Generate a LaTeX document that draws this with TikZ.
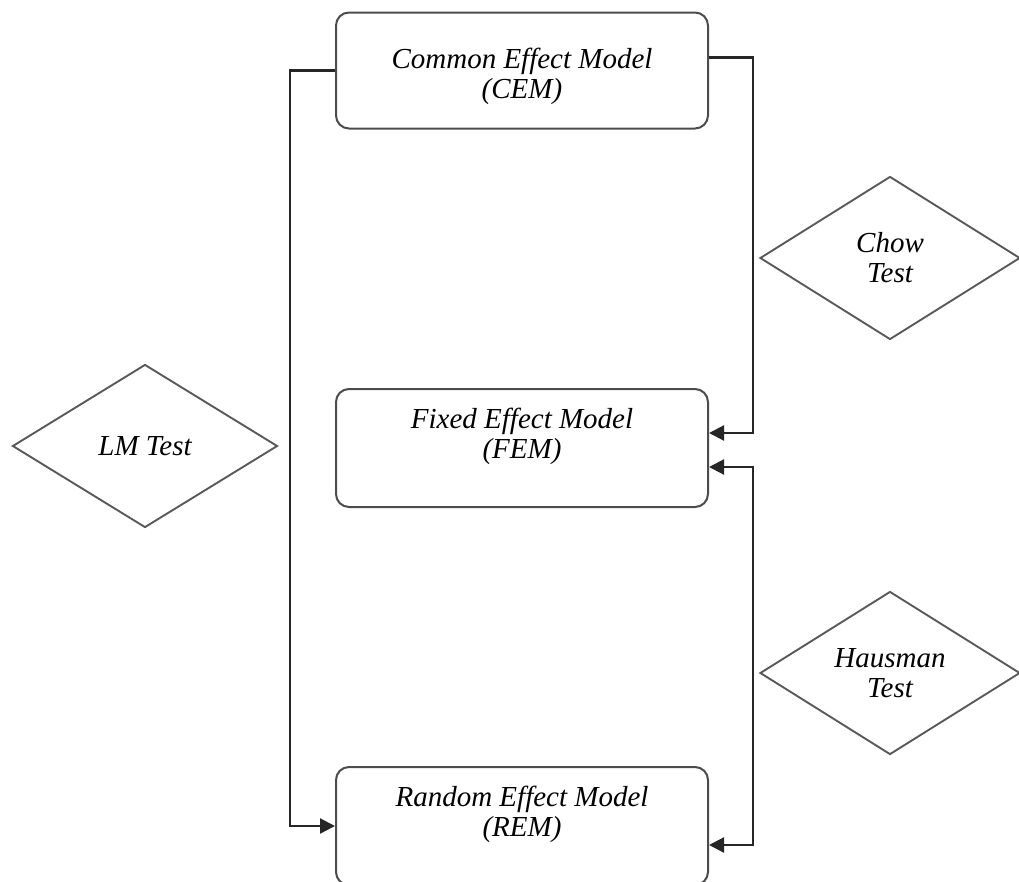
\documentclass[tikz,border=0pt]{standalone}
\usepackage{fontspec}
\setmainfont{Liberation Serif}
\usetikzlibrary{shapes.geometric, arrows.meta}

\begin{document}
\begin{tikzpicture}[x=1pt, y=-1pt,
    model/.style={draw=black!70, line width=2pt, rounded corners=13pt, minimum width=372pt,
      minimum height=116pt, align=center, inner sep=0pt, font=\fontsize{29}{30}\selectfont\itshape},
    test/.style={draw=black!65, line width=1.9pt, diamond, inner sep=0pt, align=center,
      minimum width=260pt, minimum height=163pt, font=\fontsize{29}{30}\selectfont\itshape},
    link/.style={line width=2.2pt, black!85, -{Triangle[length=15pt, width=15pt]}}]
  \useasboundingbox (0,0) rectangle (1019,881);
  % models
  \node[model] (cem) at (522,70.5) {\rule{0pt}{32pt}Common Effect Model\\(CEM)};
  \node[model, minimum height=118pt] (fem) at (522,448) {Fixed Effect Model\\(FEM)\\\mbox{}};
  \node[model, minimum height=118pt] (rem) at (522,826) {Random Effect Model\\(REM)\\\mbox{}};
  % tests
  \node[test, minimum width=265pt] (lm) at (145,446) {LM Test};
  \node[test] (chow) at (890,258) {Chow\\Test};
  \node[test] (haus) at (890,673) {Hausman\\Test};
  % links
  \draw[link] (cem.west) -- ++(-45,0) |- (rem.west);
  \draw[link] ([yshift=13pt]cem.east) -- ++(44,0) |- ([yshift=15pt]fem.east);
  \draw[link, {Triangle[length=15pt, width=15pt]}-{Triangle[length=15pt, width=15pt]}]
    ([yshift=-19pt]fem.east) -- ++(44,0) |- ([yshift=-19pt]rem.east);
\end{tikzpicture}
\end{document}
